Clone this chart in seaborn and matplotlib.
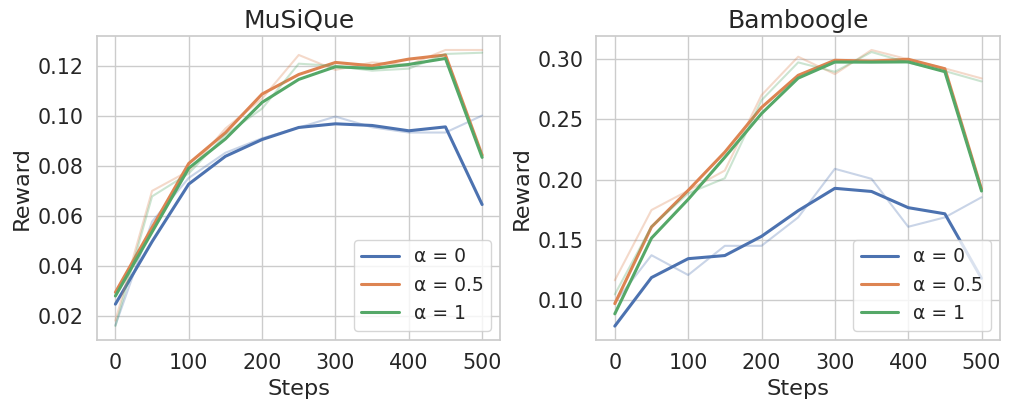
import numpy as np
import pandas as pd
import matplotlib
matplotlib.use('Agg')
import matplotlib.pyplot as plt
import seaborn as sns

steps = [0, 50, 100, 150, 200, 250, 300, 350, 400, 450, 500]
labels = ['α = 0', 'α = 0.5', 'α = 1']

# raw reward curves
musique_a0 = [0.0161, 0.0577, 0.0752, 0.0853, 0.0911, 0.0954, 0.0998, 0.0955, 0.0934, 0.0934, 0.1002]
musique_a05 = [0.0180, 0.0700, 0.0780, 0.0950, 0.1070, 0.1245, 0.1185, 0.1215, 0.1205, 0.1265, 0.1265]
musique_a1 = [0.0158, 0.0678, 0.0770, 0.0925, 0.1030, 0.1210, 0.1201, 0.1182, 0.1190, 0.1249, 0.1254]

bamboogle_a0 = [0.0980, 0.1372, 0.1208, 0.1450, 0.1450, 0.1686, 0.2089, 0.2006, 0.1608, 0.1686, 0.1853]
bamboogle_a05 = [0.1164, 0.1747, 0.1908, 0.2075, 0.2700, 0.3019, 0.2875, 0.3075, 0.2997, 0.2922, 0.2839]
bamboogle_a1 = [0.1047, 0.1610, 0.1885, 0.2011, 0.2658, 0.2972, 0.2894, 0.3058, 0.2970, 0.2900, 0.2814]

panels = [
    ('MuSiQue', [musique_a0, musique_a05, musique_a1]),
    ('Bamboogle', [bamboogle_a0, bamboogle_a05, bamboogle_a1]),
]

sns.set_theme(style='whitegrid', font_scale=1.35)
plt.rcParams['font.family'] = ['DejaVu Sans']
colors = sns.color_palette('deep')

fig, axes = plt.subplots(1, 2, figsize=(10.11, 4.11), dpi=100)

for ax, (title, series) in zip(axes, panels):
    for i, raw in enumerate(series):
        raw = np.array(raw)
        # 3-point moving average (zero padded at the ends)
        smooth = np.convolve(raw, np.ones(3) / 3, mode='same')
        sns.lineplot(x=steps, y=raw, ax=ax, color=colors[i], alpha=0.3, linewidth=1.5)
        sns.lineplot(x=steps, y=smooth, ax=ax, color=colors[i], linewidth=2.2, label=labels[i])
    ax.set_title(title, fontsize=18)
    ax.set_xlabel('Steps')
    ax.set_ylabel('Reward')
    ax.set_xticks([0, 100, 200, 300, 400, 500])
    ax.legend(loc='lower right', fontsize=13.5)

plt.subplots_adjust(left=0.096, right=0.989, top=0.912, bottom=0.173, wspace=0.238)
plt.savefig('out.png')
